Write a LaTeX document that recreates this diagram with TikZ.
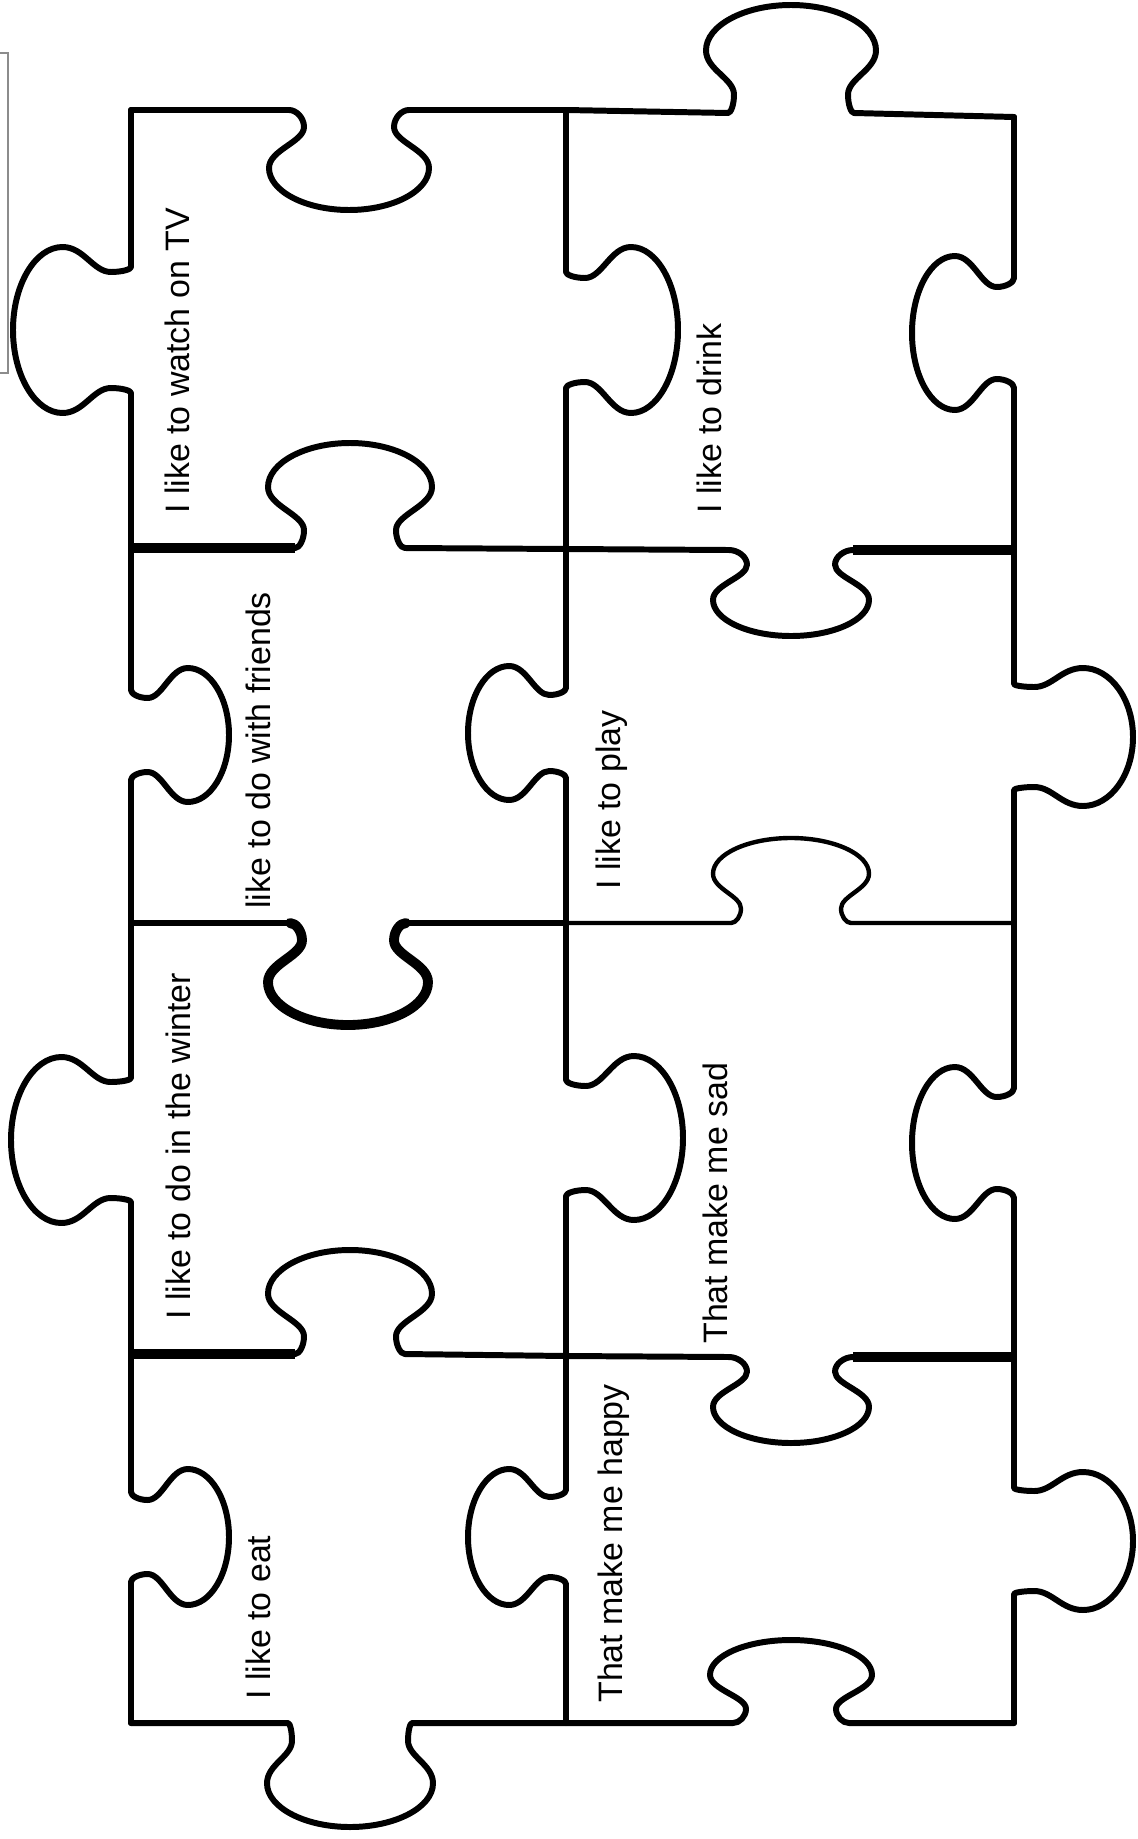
\documentclass[tikz,border=0pt]{standalone}
\usepackage{fontspec}
\setmainfont{Liberation Sans}

% tab on a horizontal edge: centre x, y, fillet, neck, bulb, depth (+ down)
\newcommand{\htab}[6]{%
  -- ({#1-#3},#2)
  .. controls ({#1-(#3+#4)/2},#2) and ({#1-#4},{#2+0.08*(#6)}) .. ({#1-#4},{#2+0.17*(#6)})
  .. controls ({#1-#4},{#2+0.32*(#6)}) and ({#1-#5},{#2+0.40*(#6)}) .. ({#1-#5},{#2+0.58*(#6)})
  .. controls ({#1-#5},{#2+0.81*(#6)}) and ({#1-0.55*#5},{#2+#6}) .. (#1,{#2+#6})
  .. controls ({#1+0.55*#5},{#2+#6}) and ({#1+#5},{#2+0.81*(#6)}) .. ({#1+#5},{#2+0.58*(#6)})
  .. controls ({#1+#5},{#2+0.40*(#6)}) and ({#1+#4},{#2+0.32*(#6)}) .. ({#1+#4},{#2+0.17*(#6)})
  .. controls ({#1+#4},{#2+0.08*(#6)}) and ({#1+(#3+#4)/2},#2) .. ({#1+#3},#2)}
% tab on a vertical edge: x, centre y, fillet, neck, bulb, depth (+ right)
\newcommand{\vtab}[6]{%
  -- (#1,{#2-#3})
  .. controls (#1,{#2-(#3+#4)/2}) and ({#1+0.08*(#6)},{#2-#4}) .. ({#1+0.17*(#6)},{#2-#4})
  .. controls ({#1+0.32*(#6)},{#2-#4}) and ({#1+0.40*(#6)},{#2-#5}) .. ({#1+0.58*(#6)},{#2-#5})
  .. controls ({#1+0.81*(#6)},{#2-#5}) and ({#1+#6},{#2-0.55*#5}) .. ({#1+#6},#2)
  .. controls ({#1+#6},{#2+0.55*#5}) and ({#1+0.81*(#6)},{#2+#5}) .. ({#1+0.58*(#6)},{#2+#5})
  .. controls ({#1+0.40*(#6)},{#2+#5}) and ({#1+0.32*(#6)},{#2+#4}) .. ({#1+0.17*(#6)},{#2+#4})
  .. controls ({#1+0.08*(#6)},{#2+#4}) and (#1,{#2+(#3+#4)/2}) .. (#1,{#2+#3})}

\tikzset{
  cutline/.style={line width=3.4pt, line cap=round, line join=round},
  boldline/.style={line width=5.2pt, line cap=butt, line join=round},
  fineline/.style={line width=2.5pt, line cap=round, line join=round},
  lbl/.style={rotate=90, anchor=base west, inner sep=0pt,
    font=\fontsize{19.3}{23}\selectfont}
}

\begin{document}
\begin{tikzpicture}[x=0.02cm, y=-0.02cm]
    \useasboundingbox (0,0) rectangle (1138,1839);

    % frame edge at the left
    \draw[black!45, line width=0.6pt] (-2,53) -- (8,53) -- (8,373) -- (-2,373);

    % outer edges
    \draw[cutline] (131,110) \htab{349}{110}{60}{45}{80}{100}
        -- (566,110) \htab{791}{113}{63}{57}{85}{-108} -- (1014,117);
    \draw[cutline] (131,110) \vtab{131}{330}{63}{58}{83}{-118}
        \vtab{131}{735}{45}{37}{67}{98} \vtab{131}{1140}{62}{58}{83}{-120}
        \vtab{131}{1537}{45}{37}{68}{98} -- (131,1723);
    \draw[cutline] (1014,117) \vtab{1014}{333}{55}{46}{77}{-102}
        \vtab{1014}{737}{53}{50}{69}{119} \vtab{1014}{1143}{55}{46}{76}{-102}
        \vtab{1014}{1541}{53}{50}{69}{119} -- (1014,1723);
    \draw[cutline] (131,1723) \htab{350}{1723}{62}{58}{83}{104}
        \htab{791}{1723}{58}{45}{81}{-83} -- (1014,1723);

    % middle cut
    \draw[cutline] (566,110) \vtab{566}{330}{58}{52}{83}{112}
        \vtab{566}{733}{45}{38}{67}{-98} \vtab{566}{1138}{58}{52}{82}{117}
        \vtab{566}{1537}{47}{40}{68}{-98} -- (566,1723);

    % cuts between the rows
    \draw[cutline] (131,548) \htab{350}{548}{55}{46}{82}{-105}
        -- (566,549) \htab{791}{550}{62}{44}{78}{86} -- (1014,550);
    \draw[boldline] (131,548) -- (295,548);
    \draw[boldline] (853,550) -- (1014,550);

    \draw[cutline] (131,923) -- (290,923);
    \draw[boldline, line width=5.6pt, line cap=round] (290,923) \htab{348}{923}{58}{46}{80}{102};
    \draw[cutline] (406,923) -- (566,923);
    \draw[fineline] (566,923) \htab{791}{923}{60}{50}{78}{-85} -- (1014,923);

    \draw[cutline] (131,1354) \htab{350}{1354}{55}{46}{82}{-104}
        -- (566,1356) \htab{791}{1357}{62}{44}{78}{86} -- (1014,1357);
    \draw[boldline] (131,1354) -- (295,1354);
    \draw[boldline] (853,1357) -- (1014,1357);

    % labels
    \node[lbl] (tv) at (189,514) {I like to watch on TV};
    \node[lbl] (drink) at (721,514) {I like to drink};
    \node[lbl] (friends) at (270,909) {like to do with friends};
    \node[lbl] (play) at (620,890) {I like to play};
    \node[lbl] (winter) at (190,1320) {I like to do in the winter};
    \node[lbl] (sad) at (727,1344) {That make me sad};
    \node[lbl] (happy) at (622,1703) {That make me happy};
    \node[lbl] (eat) at (270,1700) {I like to eat};
\end{tikzpicture}
\end{document}
